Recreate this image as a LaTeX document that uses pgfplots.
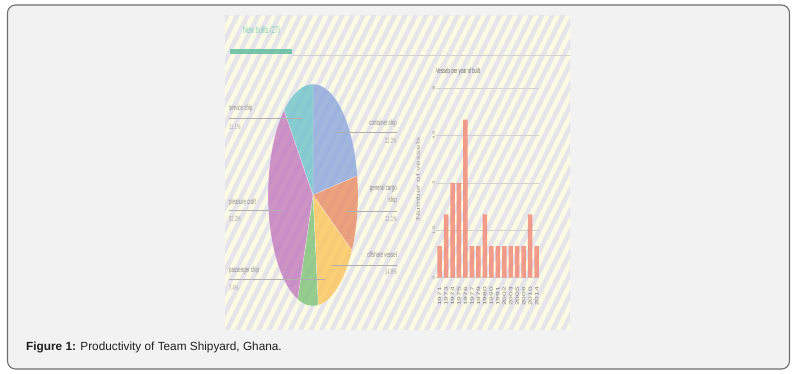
\documentclass[border=0pt]{standalone}
\usepackage{pgfplots}
\pgfplotsset{compat=1.18}
\usepackage{fontspec}
\setmainfont{Liberation Sans}
\usepackage{graphicx}

\definecolor{outerbg}{HTML}{F2F2F2}
\definecolor{outerborder}{HTML}{6E6E6E}
\definecolor{bgyel}{HTML}{FBFBE4}
\definecolor{stripeg}{HTML}{E4E4EA}
\definecolor{cont}{HTML}{8CA6DC}
\definecolor{gen}{HTML}{E88C64}
\definecolor{off}{HTML}{FCC55A}
\definecolor{pass}{HTML}{7FC277}
\definecolor{plea}{HTML}{C279BE}
\definecolor{serv}{HTML}{6EC2CB}
\definecolor{barcol}{HTML}{F28C7A}
\definecolor{titleteal}{HTML}{7FCDB3}
\definecolor{tealbar}{HTML}{62BC9F}
\definecolor{labgray}{HTML}{8A8A8A}
\definecolor{pctgray}{HTML}{ABABAB}
\definecolor{linegray}{HTML}{B0B0B0}
\definecolor{gridgray}{HTML}{D2D2D2}

\newcommand{\cond}[2]{\scalebox{0.55}[1]{\fontsize{#1}{#1}\selectfont #2}}
\newcommand{\vcond}[2]{\scalebox{1}[0.55]{\fontsize{#1}{#1}\selectfont #2}}

\begin{document}
\begin{tikzpicture}[x=1pt,y=1pt]
\fill[white] (0,0) rectangle (797,374);
\draw[rounded corners=8pt, draw=outerborder, line width=1.1pt, fill=outerbg] (7.5,5) rectangle (789.5,369);

% striped infographic background
\begin{scope}
\clip (225,44) rectangle (570,358);
\fill[bgyel] (225,44) rectangle (570,358);
\foreach \i in {-18,...,34} {
  \draw[stripeg, line width=4.3pt] ({225+\i*10.5},40) -- ({225+\i*10.5+161},362);
}
\end{scope}

% header
\node[anchor=west, inner sep=0, text=titleteal] at (243,343) {\cond{10}{New builts (27)}};
\fill[tealbar, fill opacity=0.85] (230,320) rectangle (292,325);
\draw[gridgray, line width=0.6pt] (292,318.5) -- (570,318.5);

% pie chart
\begin{axis}[at={(313pt,179pt)}, anchor=center, scale only axis, width=90pt, height=222pt,
  hide axis, xmin=-1, xmax=1, ymin=-1, ymax=1]
\gdef\cum{90}
\foreach \n/\c in {6/cont,3/gen,4/off,2/pass,9/plea,3/serv} {
  \pgfmathsetmacro\angA{\cum}
  \pgfmathsetmacro\angB{\cum-\n*360/27}
  \edef\temp{\noexpand\fill[\c, fill opacity=0.8, draw=white, draw opacity=0.5, line width=0.4pt]
    (axis cs:0,0) -- (axis cs:{cos(\angA)},{sin(\angA)})
    arc[start angle=\angA, end angle=\angB, x radius=45pt, y radius=111pt] -- cycle;}
  \temp
  \global\let\cum\angB
}
\end{axis}

% pie labels (left)
\draw[linegray, line width=0.5pt] (229,256) -- (303,256);
\node[anchor=west, inner sep=0, text=labgray] at (229,266) {\cond{8}{service ship}};
\node[anchor=west, inner sep=0, text=pctgray] at (229,247) {\cond{7.5}{11.1\%}};

\draw[linegray, line width=0.5pt] (229,164) -- (283,164);
\node[anchor=west, inner sep=0, text=labgray] at (229,172) {\cond{8}{pleasure craft}};
\node[anchor=west, inner sep=0, text=pctgray] at (229,155) {\cond{7.5}{33.3\%}};

\draw[linegray, line width=0.5pt] (229,95) -- (325,95);
\node[anchor=west, inner sep=0, text=labgray] at (229,104) {\cond{8}{passenger ship}};
\node[anchor=west, inner sep=0, text=pctgray] at (229,86) {\cond{7.5}{7.4\%}};

% pie labels (right)
\draw[linegray, line width=0.5pt] (335,242) -- (397,242);
\node[anchor=east, inner sep=0, text=labgray] at (397,251) {\cond{8}{container ship}};
\node[anchor=east, inner sep=0, text=pctgray] at (397,233) {\cond{7.5}{22.2\%}};

\draw[linegray, line width=0.5pt] (347,163) -- (397,163);
\node[anchor=east, inner sep=0, text=labgray] at (397,186) {\cond{8}{general cargo}};
\node[anchor=east, inner sep=0, text=labgray] at (397,174) {\cond{8}{ship}};
\node[anchor=east, inner sep=0, text=pctgray] at (397,155) {\cond{7.5}{11.1\%}};

\draw[linegray, line width=0.5pt] (332,109) -- (397,109);
\node[anchor=east, inner sep=0, text=labgray] at (397,119) {\cond{8}{offshore vessel}};
\node[anchor=east, inner sep=0, text=pctgray] at (397,102) {\cond{7.5}{14.8\%}};

% bar chart
\node[anchor=west, inner sep=0, text=black!60] at (436,302) {\cond{7.5}{Vessels per year of built}};
\begin{axis}[at={(436pt,96.3pt)}, anchor=south west, scale only axis,
  width=102.9pt, height=189.7pt,
  xmin=-0.55, xmax=15.35, ymin=0, ymax=6,
  axis line style={draw=none}, major tick length=0pt,
  ytick={0,1.5,3,4.5,6},
  yticklabels={\vcond{6}{0},\vcond{6}{1.5},\vcond{6}{3},\vcond{6}{4.5},\vcond{6}{6}},
  yticklabel style={rotate=90, anchor=south, text=black!45, inner sep=1pt},
  ymajorgrids, grid style={gridgray, line width=0.6pt},
  xtick={0,...,15},
  xticklabels={\vcond{8.5}{1971},\vcond{8.5}{1973},\vcond{8.5}{1974},\vcond{8.5}{1975},\vcond{8.5}{1976},\vcond{8.5}{1977},\vcond{8.5}{1979},\vcond{8.5}{1980},\vcond{8.5}{1990},\vcond{8.5}{1991},\vcond{8.5}{2002},\vcond{8.5}{2003},\vcond{8.5}{2005},\vcond{8.5}{2006},\vcond{8.5}{2010},\vcond{8.5}{2014}},
  xticklabel style={rotate=90, anchor=east, text=black!50, inner sep=0pt},
  xticklabel shift=9pt,
  ylabel={\vcond{10}{Number of vessels}},
  y label style={at={(axis description cs:-0.175,0.52)}, anchor=center, text=black!40, inner sep=0pt},
  clip=false]
\addplot[ybar, bar width=4.5pt, bar shift=0pt, fill=barcol, fill opacity=0.85, draw=none]
  coordinates {(0,1) (1,2) (2,3) (3,3) (4,5) (5,1) (6,1) (7,2) (8,1) (9,1) (10,1) (11,1) (12,1) (13,1) (14,2) (15,1)};
\end{axis}

% caption
\node[anchor=base west, inner sep=0, text=black!88] at (26,23)
  {\fontsize{11.8}{13}\selectfont\textbf{Figure 1:} Productivity of Team Shipyard, Ghana.};
\end{tikzpicture}
\end{document}
